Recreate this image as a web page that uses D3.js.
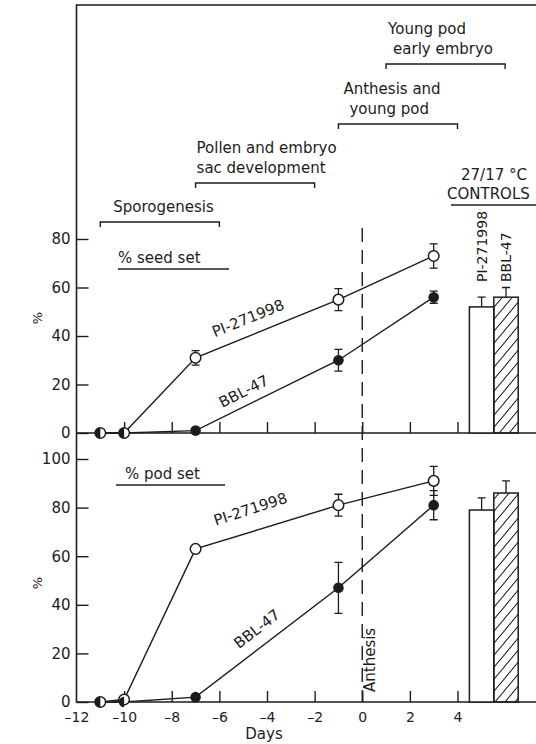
<!DOCTYPE html>
<html>
<head>
<meta charset="utf-8">
<script src="https://cdn.jsdelivr.net/npm/d3@7"></script>
<style>
  html, body { margin: 0; padding: 0; background: #fff; }
  svg { display: block; font-family: "DejaVu Sans", sans-serif; }
  text { fill: #1c1c1c; }
</style>
</head>
<body>
<svg id="chart" width="536" height="744"></svg>
<script>
// Days relative to anthesis at which plants were stressed
const days = [-11, -10, -7, -1, 3];

// % seed set
const seedPI = [0, 0, 31, 55, 73];
const seedPIErr = [0, 0, 3, 4.5, 5];
const seedBBL = [0, 0, 1, 30, 56];
const seedBBLErr = [0, 0, 0, 4.5, 2.5];

// % pod set
const podPI = [0, 1, 63, 81, 91];
const podPIErr = [0, 0, 0, 4.5, 6];
const podBBL = [0, 0, 2, 47, 81];
const podBBLErr = [0, 0, 0, 10.5, 6];

// 27/17 °C controls
const controlLines = ["PI-271998", "BBL-47"];
const controlSeed = [52, 56];
const controlSeedErr = [4, 4];
const controlPod = [79, 86];
const controlPodErr = [5, 5];

// Axis ticks
const dayTicks = [-12, -10, -8, -6, -4, -2, 0, 2, 4];
const seedTicks = [0, 20, 40, 60, 80];
const podTicks = [0, 20, 40, 60, 80, 100];

// Developmental phases (in days)
const phaseNames = [["Sporogenesis"], ["Pollen and embryo", "sac development"], ["Anthesis and", "young pod"], ["Young pod", "early embryo"]];
const phaseStart = [-11, -7, -1, 1];
const phaseEnd = [-6, -2, 4, 6];

const svg = d3.select("#chart");
const ink = "#1c1c1c";
const FS = 15;

const x = d3.scaleLinear().domain([-12, 4]).range([76.5, 457.5]);
const ySeed = d3.scaleLinear().domain([0, 80]).range([433, 239]);
const yPod = d3.scaleLinear().domain([0, 100]).range([702, 459]);
const xCtrl = d3.scaleBand().domain(controlLines).range([x(4.5), x(6.55)]);

// day labels drawn with an en dash for negatives
const dayFormat = d => (d < 0 ? "\u2013" + Math.abs(d) : String(d));

// hatch for the BBL-47 control bar
const defs = svg.append("defs");
defs.append("pattern")
  .attr("id", "hatch").attr("patternUnits", "userSpaceOnUse")
  .attr("width", 10).attr("height", 12)
  .append("path").attr("d", "M0,12 L10,0 M-2,2.4 L2,-2.4 M8,14.4 L12,9.6")
  .attr("stroke", ink).attr("stroke-width", 1.1);

// frame
const left = x(-12);
svg.append("path")
  .attr("d", `M536,5 H${left} V${yPod(0)} H536 M${left},${ySeed(0)} H536`)
  .attr("fill", "none").attr("stroke", ink).attr("stroke-width", 1.6);

// phase brackets
const phaseShift = [[13], [1, 1], [5, 11], [2, 7]];
const bracketY = [222, 183, 124, 64];
phaseNames.forEach((lines, i) => {
  const x0 = x(phaseStart[i]), x1 = x(phaseEnd[i]), by = bracketY[i];
  svg.append("path")
    .attr("d", `M${x0},${by + 5} V${by} H${x1} V${by + 5}`)
    .attr("fill", "none").attr("stroke", ink).attr("stroke-width", 1.4);
  lines.forEach((t, j) => {
    svg.append("text")
      .attr("x", x0 + phaseShift[i][j])
      .attr("y", by - 10 - (lines.length - 1 - j) * 20)
      .attr("font-size", FS).text(t);
  });
});

// controls header
svg.append("text").attr("x", 494).attr("y", 180).attr("text-anchor", "middle")
  .attr("font-size", FS).text("27/17 \u00B0C");
svg.append("text").attr("x", 447).attr("y", 199)
  .attr("font-size", FS).text("CONTROLS");
svg.append("line").attr("x1", 451).attr("x2", 536).attr("y1", 205).attr("y2", 205)
  .attr("stroke", ink).attr("stroke-width", 1.3);

// anthesis marker
svg.append("line")
  .attr("x1", x(0)).attr("x2", x(0)).attr("y1", 228).attr("y2", yPod(0))
  .attr("stroke", ink).attr("stroke-width", 1.4).attr("stroke-dasharray", "14,8");
svg.append("text")
  .attr("transform", `translate(${x(0) + 13},${yPod(0) - 10}) rotate(-90)`)
  .attr("font-size", FS).text("Anthesis");

function drawPanel(y, yTicks, pi, piErr, bbl, bblErr, ctrl, ctrlErr, title, titlePos, lineLabels) {
  const g = svg.append("g");

  // y axis with inward ticks
  const ya = g.append("g").attr("transform", `translate(${left},0)`)
    .call(d3.axisLeft(y).tickValues(yTicks).tickSize(-12).tickPadding(6).tickFormat(d3.format("d")));
  ya.select(".domain").remove();
  ya.selectAll("line").attr("stroke", ink).attr("stroke-width", 1.4);
  ya.selectAll("text").attr("font-size", FS).attr("font-family", "DejaVu Sans").attr("fill", ink);

  // x ticks pointing up from the baseline
  const xa = g.append("g").attr("transform", `translate(0,${y(0)})`)
    .call(d3.axisBottom(x).tickValues(dayTicks.filter(d => d > -12)).tickSize(-11).tickFormat(""));
  xa.select(".domain").remove();
  xa.selectAll("line").attr("stroke", ink).attr("stroke-width", 1.4);

  // panel title
  g.append("text").attr("x", titlePos.x).attr("y", titlePos.y).attr("font-size", FS).text(title);
  g.append("line").attr("x1", titlePos.u0).attr("x2", titlePos.u1)
    .attr("y1", titlePos.y + 6).attr("y2", titlePos.y + 6)
    .attr("stroke", ink).attr("stroke-width", 1.3);

  // series lines
  const line = d3.line().x((d, i) => x(days[i])).y(d => y(d));
  [pi, bbl].forEach(s => g.append("path").datum(s).attr("d", line)
    .attr("fill", "none").attr("stroke", ink).attr("stroke-width", 1.4));

  // error bars
  const err = (vals, errs) => vals.forEach((v, i) => {
    if (!errs[i]) return;
    const cx = x(days[i]), t = y(v + errs[i]), b = y(v - errs[i]);
    g.append("path").attr("d", `M${cx},${t} V${b} M${cx - 4},${t} H${cx + 4} M${cx - 4},${b} H${cx + 4}`)
      .attr("fill", "none").attr("stroke", ink).attr("stroke-width", 1.3);
  });
  err(pi, piErr); err(bbl, bblErr);

  // markers: open = PI-271998, filled = BBL-47 (half filled where they coincide)
  const r = 5.3;
  pi.forEach((v, i) => g.append("circle").attr("cx", x(days[i])).attr("cy", y(v)).attr("r", r)
    .attr("fill", "#fff").attr("stroke", ink).attr("stroke-width", 1.5));
  const half = d3.arc()({ innerRadius: 0, outerRadius: r, startAngle: Math.PI, endAngle: 2 * Math.PI });
  const full = d3.arc()({ innerRadius: 0, outerRadius: r, startAngle: 0, endAngle: 2 * Math.PI });
  bbl.forEach((v, i) => {
    const same = Math.abs(pi[i] - v) < 2;
    g.append("path").attr("transform", `translate(${x(days[i])},${y(v)})`)
      .attr("d", same ? half : full).attr("fill", ink);
  });

  // line labels along the curves
  lineLabels.forEach(l => g.append("text")
    .attr("transform", `translate(${l.x},${l.y}) rotate(${l.a})`)
    .attr("text-anchor", "middle").attr("font-size", FS).text(l.t));

  // control bars
  controlLines.forEach((c, i) => {
    const bx = xCtrl(c), bw = xCtrl.bandwidth(), top = y(ctrl[i]);
    const cx = bx + bw / 2, et = y(ctrl[i] + ctrlErr[i]);
    g.append("path").attr("d", `M${cx},${top} V${et} M${cx - 4},${et} H${cx + 4}`)
      .attr("fill", "none").attr("stroke", ink).attr("stroke-width", 1.3);
    g.append("rect").attr("x", bx).attr("y", top).attr("width", bw).attr("height", y(0) - top)
      .attr("fill", i === 0 ? "#fff" : "url(#hatch)")
      .attr("stroke", ink).attr("stroke-width", 1.5);
  });
}

drawPanel(ySeed, seedTicks, seedPI, seedPIErr, seedBBL, seedBBLErr, controlSeed, controlSeedErr,
  "% seed set", { x: 118, y: 263, u0: 118, u1: 229 },
  [{ t: "PI-271998", x: 250, y: 323, a: -22 }, { t: "BBL-47", x: 246, y: 396, a: -27 }]);

drawPanel(yPod, podTicks, podPI, podPIErr, podBBL, podBBLErr, controlPod, controlPodErr,
  "% pod set", { x: 125, y: 479, u0: 116, u1: 225 },
  [{ t: "PI-271998", x: 252, y: 514, a: -18 }, { t: "BBL-47", x: 260, y: 633, a: -38 }]);

// control bar labels
controlLines.forEach(c => svg.append("text")
  .attr("transform", `translate(${xCtrl(c) + xCtrl.bandwidth() / 2 + 5},282) rotate(-90)`)
  .attr("font-size", 14).text(c));

// y axis titles
[318, 583].forEach(cy => svg.append("text")
  .attr("transform", `translate(42,${cy}) rotate(-90)`)
  .attr("text-anchor", "middle").attr("font-size", 13).text("%"));

// x axis labels
const xl = svg.append("g").attr("transform", `translate(0,${yPod(0)})`)
  .call(d3.axisBottom(x).tickValues(dayTicks).tickSize(0).tickPadding(10).tickFormat(dayFormat));
xl.select(".domain").remove();
xl.selectAll("text").attr("font-size", 14).attr("font-family", "DejaVu Sans").attr("fill", ink);
svg.append("text").attr("x", 264).attr("y", 739).attr("text-anchor", "middle")
  .attr("font-size", FS).text("Days");
</script>
</body>
</html>
